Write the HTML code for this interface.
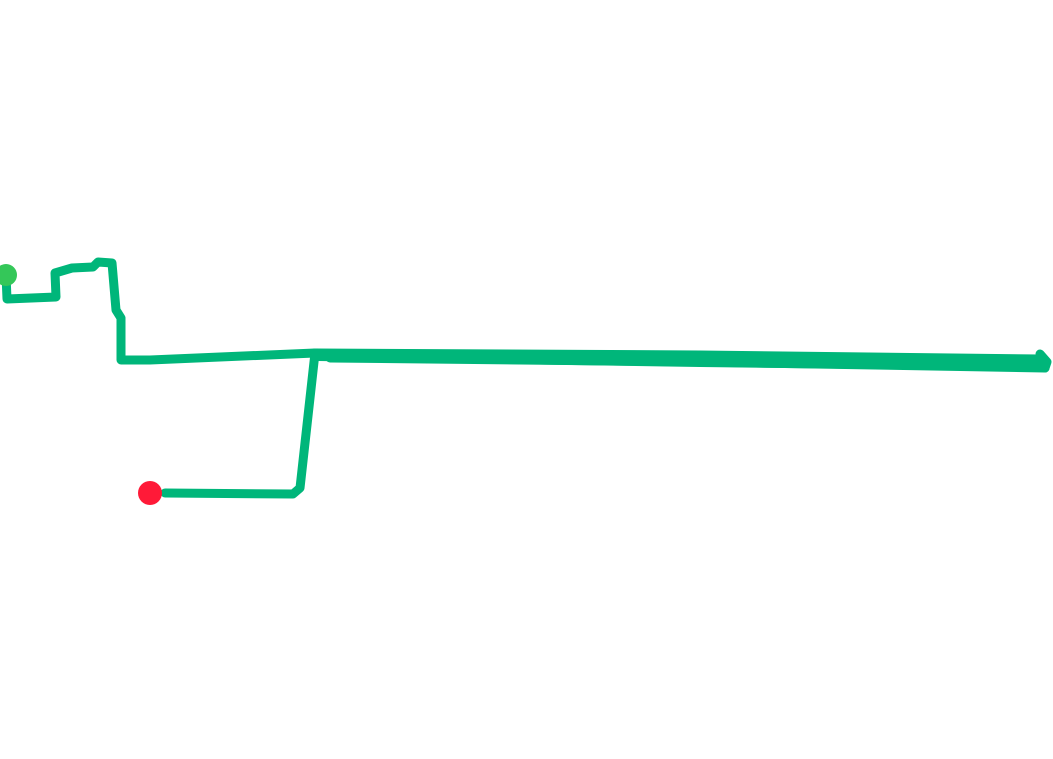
<!DOCTYPE html>
<html><head><meta charset="utf-8"><style>html,body{margin:0;padding:0;background:#fff;width:1053px;height:759px;overflow:hidden}</style></head>
<body>
<svg width="1053" height="759" viewBox="0 0 1053 759" xmlns="http://www.w3.org/2000/svg">
<g fill="none" stroke="#00b67a" stroke-width="9" stroke-linejoin="round" stroke-linecap="round">
<polyline points="6,275 7,299 56,297 55,273 72,268 93,267 98,262 112,263 116,310 121,318 121,360 150,360 315,353"/>
<polyline points="315,353 300,488 293,494 165,493"/>
<polyline points="315,353 700,355 1040,359"/>
<polyline points="330,358 700,362 1045,368"/>
<polyline points="1040,354 1047,362 1045,368"/>
</g>
<polygon points="318,349 700,351 1045,355 1051,362 1048,371 700,367 318,361" fill="#00b67a"/>
<circle cx="6" cy="275" r="11" fill="#34c759"/>
<circle cx="150" cy="493" r="12" fill="#ff1a38"/>
</svg>
</body></html>
